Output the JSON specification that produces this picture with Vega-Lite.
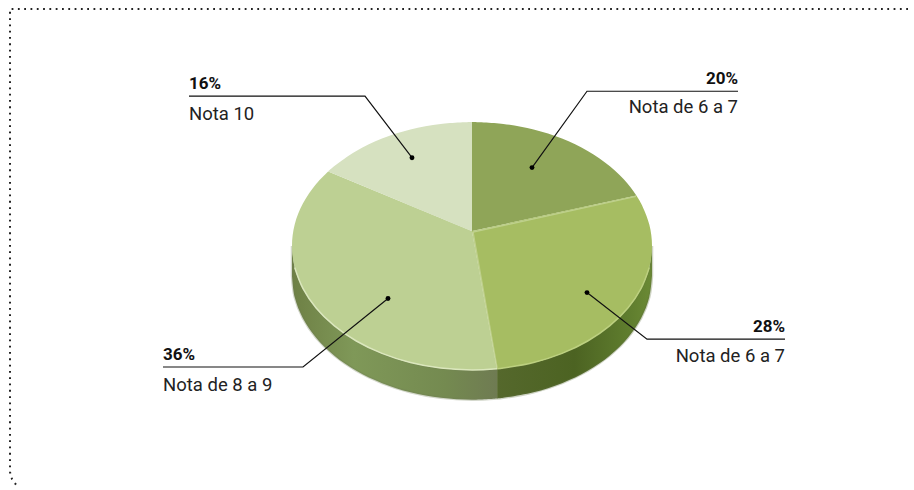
{"$schema":"https://vega.github.io/schema/vega-lite/v6.json","width":914,"height":490,"padding":0,"autosize":{"type":"fit","contains":"padding"},"background":"white","view":{"stroke":null},
"datasets":{
"frame":[{"o":0,"x":908,"y":9},{"o":1,"x":10,"y":9},{"o":2,"x":10,"y":476},{"o":3,"x":12,"y":483},{"o":4,"x":17,"y":490}],
"wallL":[{"o":0,"x":497.1,"y":371.8},{"o":0.5,"x":497.1,"y":371.8},{"o":1,"x":472,"y":373},{"o":2,"x":440.7,"y":371.1},{"o":3,"x":410.4,"y":365.5},{"o":4,"x":382,"y":356.3},{"o":5,"x":356.3,"y":343.8},{"o":6,"x":334.1,"y":328.3},{"o":7,"x":316.1,"y":310.5},{"o":8,"x":302.9,"y":290.8},{"o":9,"x":294.7,"y":269.7},{"o":10,"x":292,"y":248},{"o":10.5,"x":292,"y":248},{"o":11,"x":292,"y":278},{"o":11.5,"x":292,"y":278},{"o":12,"x":294.7,"y":299.7},{"o":13,"x":302.9,"y":320.8},{"o":14,"x":316.1,"y":340.5},{"o":15,"x":334.1,"y":358.3},{"o":16,"x":356.3,"y":373.8},{"o":17,"x":382,"y":386.3},{"o":18,"x":410.4,"y":395.5},{"o":19,"x":440.7,"y":401.1},{"o":20,"x":472,"y":403},{"o":21,"x":497.1,"y":401.8},{"o":21.5,"x":497.1,"y":401.8}],
"wallR":[{"o":0,"x":497.1,"y":371.8},{"o":0.5,"x":497.1,"y":371.8},{"o":1,"x":503.3,"y":371.1},{"o":2,"x":533.6,"y":365.5},{"o":3,"x":562,"y":356.3},{"o":4,"x":587.7,"y":343.8},{"o":5,"x":609.9,"y":328.3},{"o":6,"x":627.9,"y":310.5},{"o":7,"x":641.1,"y":290.8},{"o":8,"x":649.3,"y":269.7},{"o":9,"x":652,"y":248},{"o":9.5,"x":652,"y":248},{"o":10,"x":652,"y":278},{"o":10.5,"x":652,"y":278},{"o":11,"x":649.3,"y":299.7},{"o":12,"x":641.1,"y":320.8},{"o":13,"x":627.9,"y":340.5},{"o":14,"x":609.9,"y":358.3},{"o":15,"x":587.7,"y":373.8},{"o":16,"x":562,"y":386.3},{"o":17,"x":533.6,"y":395.5},{"o":18,"x":503.3,"y":401.1},{"o":19,"x":497.1,"y":401.8},{"o":19.5,"x":497.1,"y":401.8}],
"slices":[
{"s":"A","o":0,"x":472,"y":233},{"s":"A","o":0.5,"x":472,"y":233},{"s":"A","o":1,"x":472,"y":123},{"s":"A","o":1.5,"x":472,"y":123},{"s":"A","o":2,"x":503.3,"y":124.9},{"s":"A","o":3,"x":533.6,"y":130.5},{"s":"A","o":4,"x":562,"y":139.7},{"s":"A","o":5,"x":587.7,"y":152.2},{"s":"A","o":6,"x":609.9,"y":167.7},{"s":"A","o":7,"x":627.9,"y":185.5},{"s":"A","o":8,"x":636.4,"y":197.2},{"s":"A","o":8.5,"x":636.4,"y":197.2},
{"s":"B","o":0,"x":472,"y":233},{"s":"B","o":0.5,"x":472,"y":233},{"s":"B","o":1,"x":636.4,"y":197.2},{"s":"B","o":1.5,"x":636.4,"y":197.2},{"s":"B","o":2,"x":641.1,"y":205.2},{"s":"B","o":3,"x":649.3,"y":226.3},{"s":"B","o":4,"x":652,"y":248},{"s":"B","o":5,"x":649.3,"y":269.7},{"s":"B","o":6,"x":641.1,"y":290.8},{"s":"B","o":7,"x":627.9,"y":310.5},{"s":"B","o":8,"x":609.9,"y":328.3},{"s":"B","o":9,"x":587.7,"y":343.8},{"s":"B","o":10,"x":562,"y":356.3},{"s":"B","o":11,"x":533.6,"y":365.5},{"s":"B","o":12,"x":503.3,"y":371.1},{"s":"B","o":13,"x":497.1,"y":371.8},{"s":"B","o":13.5,"x":497.1,"y":371.8},
{"s":"C","o":0,"x":472,"y":233},{"s":"C","o":0.5,"x":472,"y":233},{"s":"C","o":1,"x":497.1,"y":371.8},{"s":"C","o":1.5,"x":497.1,"y":371.8},{"s":"C","o":2,"x":472,"y":373},{"s":"C","o":3,"x":440.7,"y":371.1},{"s":"C","o":4,"x":410.4,"y":365.5},{"s":"C","o":5,"x":382,"y":356.3},{"s":"C","o":6,"x":356.3,"y":343.8},{"s":"C","o":7,"x":334.1,"y":328.3},{"s":"C","o":8,"x":316.1,"y":310.5},{"s":"C","o":9,"x":302.9,"y":290.8},{"s":"C","o":10,"x":294.7,"y":269.7},{"s":"C","o":11,"x":292,"y":248},{"s":"C","o":12,"x":294.7,"y":226.3},{"s":"C","o":13,"x":302.9,"y":205.2},{"s":"C","o":14,"x":316.1,"y":185.5},{"s":"C","o":15,"x":328.2,"y":172.8},{"s":"C","o":15.5,"x":328.2,"y":172.8},
{"s":"D","o":0,"x":472,"y":233},{"s":"D","o":0.5,"x":472,"y":233},{"s":"D","o":1,"x":328.2,"y":172.8},{"s":"D","o":1.5,"x":328.2,"y":172.8},{"s":"D","o":2,"x":334.1,"y":167.7},{"s":"D","o":3,"x":356.3,"y":152.2},{"s":"D","o":4,"x":382,"y":139.7},{"s":"D","o":5,"x":410.4,"y":130.5},{"s":"D","o":6,"x":440.7,"y":124.9},{"s":"D","o":7,"x":472,"y":123},{"s":"D","o":7.5,"x":472,"y":123}],
"rimL":[{"o":0,"x":497.1,"y":371.8},{"o":1,"x":472,"y":373},{"o":2,"x":440.7,"y":371.1},{"o":3,"x":410.4,"y":365.5},{"o":4,"x":382,"y":356.3},{"o":5,"x":356.3,"y":343.8},{"o":6,"x":334.1,"y":328.3},{"o":7,"x":316.1,"y":310.5},{"o":8,"x":302.9,"y":290.8},{"o":9,"x":294.7,"y":269.7}],
"rimR":[{"o":0,"x":497.1,"y":371.8},{"o":1,"x":503.3,"y":371.1},{"o":2,"x":533.6,"y":365.5},{"o":3,"x":562,"y":356.3},{"o":4,"x":587.7,"y":343.8},{"o":5,"x":609.9,"y":328.3},{"o":6,"x":627.9,"y":310.5},{"o":7,"x":641.1,"y":290.8},{"o":8,"x":649.3,"y":269.7}],
"seams":[{"k":"a","o":0,"x":473,"y":234},{"k":"a","o":1,"x":636,"y":198},{"k":"b","o":0,"x":473,"y":234},{"k":"b","o":1,"x":497,"y":371}],
"leaders":[
{"k":"16%","o":0,"x":189,"y":97},{"k":"16%","o":1,"x":365,"y":97},{"k":"16%","o":2,"x":412,"y":159},
{"k":"20%","o":0,"x":738,"y":92},{"k":"20%","o":1,"x":587,"y":92},{"k":"20%","o":2,"x":532,"y":169},
{"k":"28%","o":0,"x":785,"y":342},{"k":"28%","o":1,"x":647,"y":342},{"k":"28%","o":2,"x":587,"y":295},
{"k":"36%","o":0,"x":163,"y":370},{"k":"36%","o":1,"x":303,"y":370},{"k":"36%","o":2,"x":388,"y":301}],
"dots":[{"x":412,"y":159},{"x":532,"y":169},{"x":587,"y":295},{"x":388,"y":301}],
"texts":[
{"p":"16%","n":"Nota 10","side":"L","x":189,"yp":90,"yn":121},
{"p":"20%","n":"Nota de 6 a 7","side":"R","x":738,"yp":85,"yn":114},
{"p":"28%","n":"Nota de 6 a 7","side":"R","x":785,"yp":335,"yn":365},
{"p":"36%","n":"Nota de 8 a 9","side":"L","x":163,"yp":363,"yn":394}]
},
"encoding":{
"x":{"field":"x","type":"quantitative","scale":{"domain":[0,914],"nice":false,"zero":false},"axis":null},
"y":{"field":"y","type":"quantitative","scale":{"domain":[490,0],"nice":false,"zero":false},"axis":null}
},
"layer":[
{"data":{"name":"frame"},"mark":{"type":"line","stroke":"#222222","strokeWidth":2,"strokeDash":[1.8,4.5],"clip":false},"encoding":{"order":{"field":"o"}}},
{"data":{"name":"wallL"},"mark":{"type":"line","interpolate":"catmull-rom","filled":true,"stroke":"#6f7d55","strokeWidth":2.5,"strokeOpacity":0.3,"fill":{"gradient":"linear","x1":0,"x2":1,"y1":0,"y2":0,"stops":[{"offset":0,"color":"#6e8045"},{"offset":0.3,"color":"#7f9858"},{"offset":0.75,"color":"#748a50"},{"offset":1,"color":"#6f7b52"}]}},"encoding":{"order":{"field":"o"}}},
{"data":{"name":"wallR"},"mark":{"type":"line","interpolate":"catmull-rom","filled":true,"stroke":"#5f7040","strokeWidth":2.5,"strokeOpacity":0.3,"fill":{"gradient":"linear","x1":0,"x2":1,"y1":0,"y2":0,"stops":[{"offset":0,"color":"#55682c"},{"offset":0.5,"color":"#4c6322"},{"offset":0.85,"color":"#5f7d2e"},{"offset":1,"color":"#6b8a35"}]}},"encoding":{"order":{"field":"o"}}},
{"data":{"name":"slices"},"mark":{"type":"line","interpolate":"catmull-rom","filled":true,"stroke":null},"encoding":{"order":{"field":"o"},"color":{"field":"s","type":"nominal","legend":null,"scale":{"domain":["A","B","C","D"],"range":["#8fa558","#a6bd62","#bdd093","#d6e1c0"]}}}},
{"data":{"name":"seams"},"mark":{"type":"line","stroke":"#c4d596","strokeWidth":1.5,"strokeOpacity":0.8},"encoding":{"detail":{"field":"k"},"order":{"field":"o"}}},
{"data":{"name":"rimL"},"mark":{"type":"line","interpolate":"catmull-rom","stroke":"#dbe7bd","strokeWidth":1.5},"encoding":{"order":{"field":"o"}}},
{"data":{"name":"rimR"},"mark":{"type":"line","interpolate":"catmull-rom","stroke":"#bcd07f","strokeWidth":1.5},"encoding":{"order":{"field":"o"}}},
{"data":{"name":"leaders"},"mark":{"type":"line","stroke":"#111111","strokeWidth":1.2},"encoding":{"detail":{"field":"k"},"order":{"field":"o"}}},
{"data":{"name":"dots"},"mark":{"type":"point","filled":true,"color":"#000000","size":24,"opacity":1}},
{"data":{"name":"texts"},"transform":[{"filter":"datum.side=='L'"}],"mark":{"type":"text","align":"left","baseline":"alphabetic","font":"Roboto","fontWeight":"bold","fontSize":17,"color":"#111111"},"encoding":{"y":{"field":"yp","type":"quantitative","scale":{"domain":[490,0],"nice":false,"zero":false},"axis":null},"text":{"field":"p"}}},
{"data":{"name":"texts"},"transform":[{"filter":"datum.side=='R'"}],"mark":{"type":"text","align":"right","baseline":"alphabetic","font":"Roboto","fontWeight":"bold","fontSize":17,"color":"#111111"},"encoding":{"y":{"field":"yp","type":"quantitative","scale":{"domain":[490,0],"nice":false,"zero":false},"axis":null},"text":{"field":"p"}}},
{"data":{"name":"texts"},"transform":[{"filter":"datum.side=='L'"}],"mark":{"type":"text","align":"left","baseline":"alphabetic","font":"Roboto","fontWeight":400,"fontSize":18.5,"color":"#222222"},"encoding":{"y":{"field":"yn","type":"quantitative","scale":{"domain":[490,0],"nice":false,"zero":false},"axis":null},"text":{"field":"n"}}},
{"data":{"name":"texts"},"transform":[{"filter":"datum.side=='R'"}],"mark":{"type":"text","align":"right","baseline":"alphabetic","font":"Roboto","fontWeight":400,"fontSize":18.5,"color":"#222222"},"encoding":{"y":{"field":"yn","type":"quantitative","scale":{"domain":[490,0],"nice":false,"zero":false},"axis":null},"text":{"field":"n"}}}
]}
